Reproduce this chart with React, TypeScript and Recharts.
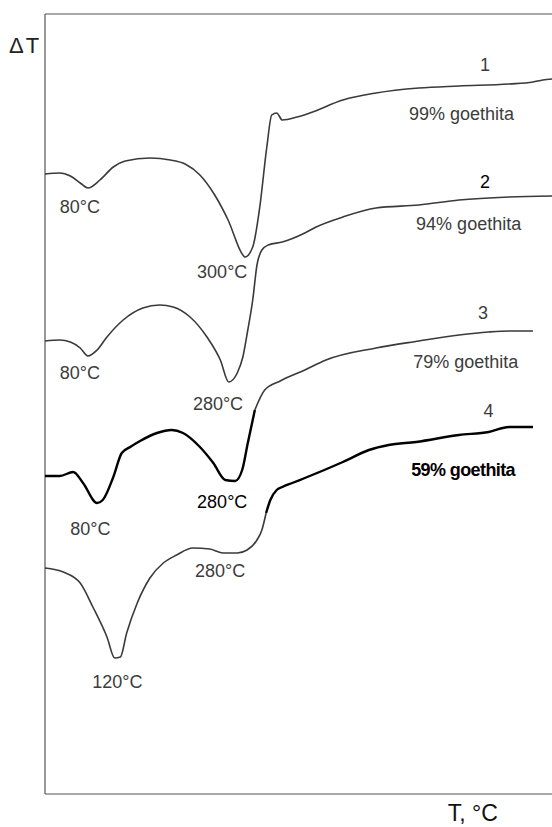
import React from "react"
import { LineChart, Line, XAxis, YAxis, ReferenceLine, ReferenceDot } from "recharts"

// DTA curves of goethite samples; t = temperature axis, dt = ΔT (arbitrary units)
const curve1 = [
  { t: 0, dt: 620 }, { t: 21, dt: 621 }, { t: 36, dt: 618 }, { t: 50, dt: 611 }, { t: 61, dt: 606 },
  { t: 78, dt: 614 }, { t: 97, dt: 627 }, { t: 114, dt: 633 }, { t: 149, dt: 636 }, { t: 178, dt: 634 },
  { t: 199, dt: 630 }, { t: 220, dt: 619 }, { t: 241, dt: 599 }, { t: 260, dt: 574 }, { t: 281, dt: 539 },
  { t: 284, dt: 537 }, { t: 295, dt: 547 }, { t: 305, dt: 587 }, { t: 315, dt: 647 }, { t: 322, dt: 679 },
  { t: 329, dt: 681 }, { t: 337, dt: 674 }, { t: 358, dt: 677 }, { t: 376, dt: 681 }, { t: 423, dt: 694 },
  { t: 470, dt: 701 }, { t: 531, dt: 706 }, { t: 588, dt: 708 }, { t: 659, dt: 710 }, { t: 693, dt: 712 },
  { t: 707, dt: 714 }, { t: 720, dt: 715 },
]

const curve2 = [
  { t: 0, dt: 453 }, { t: 21, dt: 454 }, { t: 36, dt: 452 }, { t: 50, dt: 446 }, { t: 61, dt: 438 },
  { t: 74, dt: 444 }, { t: 88, dt: 457 }, { t: 111, dt: 474 }, { t: 139, dt: 486 }, { t: 163, dt: 489 },
  { t: 182, dt: 487 }, { t: 206, dt: 477 }, { t: 230, dt: 457 }, { t: 249, dt: 434 }, { t: 261, dt: 412 },
  { t: 273, dt: 421 }, { t: 281, dt: 437 }, { t: 288, dt: 464 }, { t: 295, dt: 494 }, { t: 301, dt: 529 },
  { t: 308, dt: 544 }, { t: 317, dt: 549 }, { t: 337, dt: 552 }, { t: 369, dt: 561 }, { t: 385, dt: 567 },
  { t: 423, dt: 577 }, { t: 470, dt: 586 }, { t: 531, dt: 589 }, { t: 588, dt: 594 }, { t: 659, dt: 597 },
  { t: 720, dt: 598 },
]

const curve3 = [
  { t: 0, dt: 318 }, { t: 21, dt: 318 }, { t: 40, dt: 322 }, { t: 54, dt: 311 }, { t: 74, dt: 291 },
  { t: 82, dt: 294 }, { t: 97, dt: 317 }, { t: 109, dt: 341 }, { t: 121, dt: 347 }, { t: 135, dt: 353 },
  { t: 159, dt: 361 }, { t: 180, dt: 364 }, { t: 196, dt: 361 }, { t: 220, dt: 347 }, { t: 239, dt: 331 },
  { t: 256, dt: 314 }, { t: 270, dt: 313 }, { t: 280, dt: 324 }, { t: 288, dt: 351 }, { t: 298, dt: 384 },
  { t: 312, dt: 404 }, { t: 334, dt: 413 }, { t: 369, dt: 424 }, { t: 399, dt: 434 }, { t: 470, dt: 446 },
  { t: 531, dt: 453 }, { t: 588, dt: 459 }, { t: 630, dt: 462 }, { t: 659, dt: 463 }, { t: 693, dt: 463 },
]

const curve4 = [
  { t: 0, dt: 226 }, { t: 26, dt: 222 }, { t: 50, dt: 211 }, { t: 68, dt: 187 }, { t: 88, dt: 157 },
  { t: 99, dt: 136 }, { t: 107, dt: 137 }, { t: 116, dt: 161 }, { t: 131, dt: 191 }, { t: 149, dt: 216 },
  { t: 168, dt: 231 }, { t: 187, dt: 239 }, { t: 210, dt: 246 }, { t: 234, dt: 245 }, { t: 253, dt: 241 },
  { t: 273, dt: 241 }, { t: 287, dt: 244 }, { t: 301, dt: 254 }, { t: 308, dt: 264 }, { t: 314, dt: 281 },
  { t: 320, dt: 294 }, { t: 329, dt: 304 }, { t: 337, dt: 307 }, { t: 351, dt: 311 }, { t: 369, dt: 316 },
  { t: 423, dt: 332 }, { t: 460, dt: 344 }, { t: 488, dt: 349 }, { t: 527, dt: 352 }, { t: 588, dt: 359 },
  { t: 630, dt: 362 }, { t: 659, dt: 367 }, { t: 693, dt: 367 },
]

// where the scanned trace switches between the dark and the grey print
const curve3Split = 298
const curve4Split = 314

const peakLabels = [
  { t: 21, dt: 581, text: "80°C", kind: "grey" },
  { t: 216, dt: 516, text: "300°C", kind: "grey" },
  { t: 21, dt: 415, text: "80°C", kind: "grey" },
  { t: 210, dt: 384, text: "280°C", kind: "grey" },
  { t: 36, dt: 259, text: "80°C", kind: "grey" },
  { t: 216, dt: 286, text: "280°C", kind: "dark" },
  { t: 213, dt: 217, text: "280°C", kind: "grey" },
  { t: 67, dt: 106, text: "120°C", kind: "grey" },
]

const curveLabels = [
  { t: 625, dt: 723, text: "1", kind: "num" },
  { t: 517, dt: 674, text: "99% goethita", kind: "grey" },
  { t: 625, dt: 606, text: "2", kind: "numDark" },
  { t: 527, dt: 564, text: "94% goethita", kind: "grey" },
  { t: 622, dt: 475, text: "3", kind: "num" },
  { t: 523, dt: 426, text: "79% goethita", kind: "grey" },
  { t: 630, dt: 377, text: "4", kind: "num" },
  { t: 520, dt: 318, text: "59% goethita", kind: "bold" },
]

const axisLabels = [
  { t: -51, dt: 741, text: "ΔT", kind: "axis" },
  { t: 572, dt: -27, text: "T, °C", kind: "axisBig" },
]

const font = "'Liberation Sans', Arial, Helvetica, sans-serif"

const styles: Record<string, any> = {
  grey: { fill: "#3c3c3c", size: 18, weight: 400, anchor: "start" },
  dark: { fill: "#000", size: 18, weight: 400, anchor: "start" },
  bold: { fill: "#000", size: 18, weight: 700, anchor: "start", spacing: -0.6 },
  num: { fill: "#3c3c3c", size: 18, weight: 400, anchor: "middle" },
  numDark: { fill: "#000", size: 18, weight: 400, anchor: "middle" },
  axis: { fill: "#222", size: 22, weight: 400, anchor: "start", spacing: 2 },
  axisBig: { fill: "#111", size: 23, weight: 400, anchor: "start" },
}

const TextLabel = ({ viewBox, text, kind }: any) => {
  const s = styles[kind]
  if (!viewBox) return null
  return (
    <text
      x={viewBox.x}
      y={viewBox.y}
      fill={s.fill}
      fontSize={s.size}
      fontWeight={s.weight}
      textAnchor={s.anchor}
      letterSpacing={s.spacing || 0}
      fontFamily={font}
    >
      {text}
    </text>
  )
}

const greyLine = { stroke: "#3a3a3a", strokeWidth: 1.6 }
const darkLine = { stroke: "#000", strokeWidth: 2.4 }

export default function App() {
  const allLabels = [...peakLabels, ...curveLabels, ...axisLabels]

  return (
    <div style={{ position: "absolute", left: 0, top: 0, width: 552, height: 827, background: "#fff" }}>
      <LineChart width={552} height={827} margin={{ top: 14, right: 0, bottom: 33, left: 45 }}>
        <XAxis dataKey="t" type="number" domain={[0, 720]} hide />
        <YAxis dataKey="dt" type="number" domain={[0, 780]} hide />

        <ReferenceLine x={0} stroke="#555" strokeWidth={1.2} ifOverflow="visible" />
        <ReferenceLine y={780} stroke="#555" strokeWidth={1.2} ifOverflow="visible" />
        <ReferenceLine y={0} stroke="#555" strokeWidth={1.2} ifOverflow="visible" />

        <Line data={curve1} dataKey="dt" type="monotone" dot={false} {...greyLine} isAnimationActive={false} />
        <Line data={curve2} dataKey="dt" type="monotone" dot={false} {...greyLine} isAnimationActive={false} />
        <Line
          data={curve3.filter((p) => p.t <= curve3Split)}
          dataKey="dt"
          type="monotone"
          dot={false}
          {...darkLine}
          isAnimationActive={false}
        />
        <Line
          data={curve3.filter((p) => p.t >= curve3Split)}
          dataKey="dt"
          type="monotone"
          dot={false}
          {...greyLine}
          isAnimationActive={false}
        />
        <Line
          data={curve4.filter((p) => p.t <= curve4Split)}
          dataKey="dt"
          type="monotone"
          dot={false}
          {...greyLine}
          isAnimationActive={false}
        />
        <Line
          data={curve4.filter((p) => p.t >= curve4Split)}
          dataKey="dt"
          type="monotone"
          dot={false}
          {...darkLine}
          isAnimationActive={false}
        />

        {allLabels.map((l, i) => (
          <ReferenceDot
            key={i}
            x={l.t}
            y={l.dt}
            r={0}
            fill="none"
            stroke="none"
            ifOverflow="visible"
            label={<TextLabel text={l.text} kind={l.kind} />}
          />
        ))}
      </LineChart>
    </div>
  )
}
